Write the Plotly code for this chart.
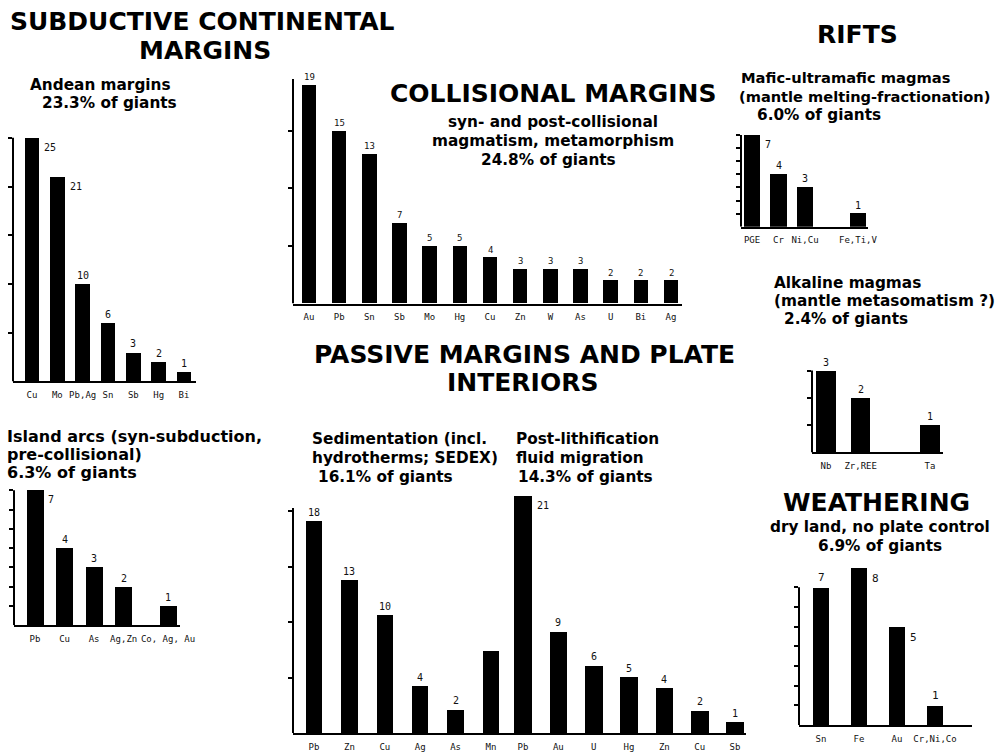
import plotly.graph_objects as go

W, H = 997, 752
WX = 982  # effective horizontal pixel span used to convert pixel positions into paper fractions

# ---------------- data ----------------
andean_cats = ["Cu", "Mo", "Pb,Ag", "Sn", "Sb", "Hg", "Bi"]
andean_vals = [25, 21, 10, 6, 3, 2, 1]

coll_cats = ["Au", "Pb", "Sn", "Sb", "Mo", "Hg", "Cu", "Zn", "W", "As", "U", "Bi", "Ag"]
coll_vals = [19, 15, 13, 7, 5, 5, 4, 3, 3, 3, 2, 2, 2]

mafic_cats = ["PGE", "Cr", "Ni,Cu", "Fe,Ti,V"]
mafic_vals = [7, 4, 3, 1]

alk_cats = ["Nb", "Zr,REE", "Ta"]
alk_vals = [3, 2, 1]

island_cats = ["Pb", "Cu", "As", "Ag,Zn", "Co, Ag, Au"]
island_vals = [7, 4, 3, 2, 1]

sed_cats = ["Pb", "Zn", "Cu", "Ag", "As", "Mn"]
sed_vals = [18, 13, 10, 4, 2, 7]
sed_labels = ["18", "13", "10", "4", "2", ""]

post_cats = ["Pb", "Au", "U", "Hg", "Zn", "Cu", "Sb"]
post_vals = [21, 9, 6, 5, 4, 2, 1]

weath_cats = ["Sn", "Fe", "Au", "Cr,Ni,Co"]
weath_vals = [7, 8, 5, 1]

# ---------------- layout config (pixel geometry) ----------------
panels = [
    dict(cats=andean_cats, vals=andean_vals, xpx=(13, 196), centers=(32, 184), base=382, ppu=9.76,
         ytop=25, dtick=5, barw=0.58, right={"Cu", "Mo"}, vsize=10),
    dict(cats=coll_cats, vals=coll_vals, xpx=(293, 682), centers=(309, 671), base=304, ppu=11.53,
         ytop=19.5, dtick=5, barw=0.48, right=set(), vsize=9),
    dict(cats=mafic_cats, vals=mafic_vals, xpx=(741, 868), centers=(752, 858), base=227, ppu=13.1,
         ytop=7, dtick=1, barw=0.64, right={"PGE"}, slots=["PGE", "Cr", "Ni,Cu", " ", "Fe,Ti,V"], vsize=10),
    dict(cats=alk_cats, vals=alk_vals, xpx=(812, 943), centers=(826, 930), base=453, ppu=27.3,
         ytop=3, dtick=1, barw=0.55, right=set(), slots=["Nb", "Zr,REE", " ", "Ta"], vsize=10),
    dict(cats=island_cats, vals=island_vals, xpx=(14, 180), centers=(35, 168), base=626, ppu=19.3,
         ytop=7, dtick=1, barw=1.15, right={"Pb"}, vsize=10,
         slots=["Pb", " ", "Cu", "  ", "As", "   ", "Ag,Zn", "    ", "     ", "Co, Ag, Au"]),
    dict(cats=sed_cats, vals=sed_vals, labels=sed_labels, xpx=(293, 505), centers=(314, 491), base=734,
         ppu=11.8, ytop=19.1, dtick=4.7, barw=0.46, right=set(), vsize=10),
    dict(cats=post_cats, vals=post_vals, xpx=(505, 746), centers=(523, 735), base=734, ppu=11.3,
         ytop=None, dtick=None, barw=0.5, right={"Pb"}, vsize=10),
    dict(cats=weath_cats, vals=weath_vals, xpx=(799, 972), centers=(821, 935), base=726, ppu=19.7,
         ytop=7, dtick=1, barw=0.42, right={"Fe", "Au"}, vsize=11),
]

TICKFONT = dict(family="DejaVu Sans Mono", size=9, color="#111")
BOLD = "DejaVu Sans, Arial, sans-serif"

fig = go.Figure()
layout = {}
shapes = []
annotations = []

for i, p in enumerate(panels, start=1):
    sfx = "" if i == 1 else str(i)
    xa, ya = "x" + sfx, "y" + sfx
    slots = p.get("slots", p["cats"])
    n = len(slots)
    x0, x1 = p["xpx"]
    c0, c1 = p["centers"]
    s = (c1 - c0) / (n - 1)
    xr = [-(c0 - x0) / s, (n - 1) + (x1 - c1) / s]
    ymaxv = max(max(p["vals"]), p["ytop"] or 0) * 1.12
    top_px = p["base"] - ymaxv * p["ppu"]
    layout["xaxis" + sfx] = dict(
        domain=[x0 / WX, min(x1 / WX, 1.0)], range=xr, anchor=ya, type="category",
        categoryorder="array", categoryarray=slots, tickangle=0,
        showline=True, linecolor="black", linewidth=2, mirror=False,
        ticks="outside", ticklen=4, tickcolor="rgba(0,0,0,0)", tickfont=TICKFONT,
        showgrid=False, zeroline=False, fixedrange=True,
    )
    yax = dict(
        domain=[1 - p["base"] / H, 1 - top_px / H], range=[0, ymaxv], anchor=xa,
        showline=False, showgrid=False, zeroline=False, showticklabels=False, fixedrange=True,
    )
    if p["ytop"]:
        k = 1
        tv = []
        while k * p["dtick"] <= p["ytop"] + 1e-6:
            tv.append(k * p["dtick"])
            k += 1
        yax.update(ticks="outside", ticklen=4, tickwidth=1.5, tickcolor="black", tickvals=tv)
        shapes.append(dict(type="line", xref=xa + " domain", yref=ya, x0=0, x1=0, y0=0, y1=p["ytop"],
                           line=dict(color="black", width=2)))
    layout["yaxis" + sfx] = yax

    fig.add_trace(go.Bar(x=p["cats"], y=p["vals"], xaxis=xa, yaxis=ya, width=p["barw"],
                         marker=dict(color="black", line=dict(width=0)), showlegend=False,
                         hoverinfo="x+y"))
    labels = p.get("labels", [str(v) for v in p["vals"]])
    half_px = p["barw"] * s / 2
    vfont = dict(family="DejaVu Sans Mono", size=p["vsize"], color="#111")
    for c, v, lab in zip(p["cats"], p["vals"], labels):
        if not lab:
            continue
        if c in p["right"]:
            annotations.append(dict(x=c, y=v, xref=xa, yref=ya, text=lab, showarrow=False,
                                    xanchor="left", yanchor="top", xshift=half_px + 3, yshift=-2,
                                    font=vfont))
        else:
            annotations.append(dict(x=c, y=v, xref=xa, yref=ya, text=lab, showarrow=False,
                                    xanchor="center", yanchor="bottom", yshift=1, font=vfont))


def txt(s, x, y, size, anchor="left"):
    annotations.append(dict(text="<b>%s</b>" % s, x=x / WX, y=1 - y / H, xref="paper", yref="paper",
                            xanchor=anchor, yanchor="middle", showarrow=False,
                            font=dict(family=BOLD, size=size, color="black")))


T, S = 25, 15.3
txt("SUBDUCTIVE CONTINENTAL", 202, 22, T, "center")
txt("MARGINS", 205, 51, T, "center")
txt("Andean margins", 28, 85, S)
txt("23.3% of giants", 40, 103, S)

txt("COLLISIONAL MARGINS", 553, 94, T, "center")
txt("syn- and post-collisional", 553, 122, S, "center")
txt("magmatism, metamorphism", 553, 141, S, "center")
txt("24.8% of giants", 548, 160, S, "center")

txt("RIFTS", 857, 35, T, "center")
txt("Mafic-ultramafic magmas", 739, 78, 14.7)
txt("(mantle melting-fractionation)", 737, 97, 14.6)
txt("6.0% of giants", 755, 115, S)

txt("Alkaline magmas", 772, 283, S)
txt("(mantle metasomatism ?)", 772, 301, S)
txt("2.4% of giants", 782, 319, S)

txt("PASSIVE MARGINS AND PLATE", 524, 355, T, "center")
txt("INTERIORS", 522, 383, T, "center")

txt("Island arcs (syn-subduction,", 5, 437, 16)
txt("pre-collisional)", 5, 455, 16)
txt("6.3% of giants", 5, 473, 16)

txt("Sedimentation (incl.", 310, 440, S)
txt("hydrotherms; SEDEX)", 310, 459, S)
txt("16.1% of giants", 316, 478, S)

txt("Post-lithification", 514, 440, S)
txt("fluid migration", 514, 459, S)
txt("14.3% of giants", 516, 478, S)

txt("WEATHERING", 876, 503, T, "center")
txt("dry land, no plate control", 880, 528, S, "center")
txt("6.9% of giants", 880, 547, S, "center")

fig.update_layout(
    width=W, height=H, margin=dict(l=0, r=0, t=0, b=0),
    paper_bgcolor="white", plot_bgcolor="white",
    shapes=shapes, annotations=annotations, bargap=0, showlegend=False,
    **layout,
)

fig.write_html(
    "out.html",
    config={"displayModeBar": False, "responsive": False},
    post_script=(
        "document.documentElement.style.margin='0px';"
        "document.body.style.margin='0px';"
        "document.body.style.overflow='hidden';"
        "document.documentElement.style.overflow='hidden';"
    ),
)
